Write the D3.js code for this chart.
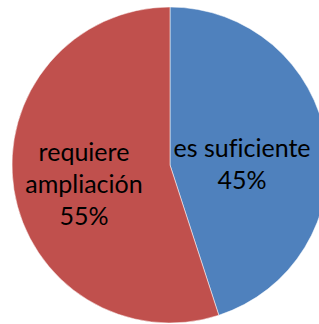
<!DOCTYPE html>
<html>
<head>
<meta charset="utf-8">
<script src="https://cdn.jsdelivr.net/npm/d3@7"></script>
<style>
body { margin: 0; background: #fff; }
svg { display: block; }
text { font-family: Lato, "Liberation Sans", sans-serif; fill: #000; font-variant-ligatures: none; }
</style>
</head>
<body>
<svg></svg>
<script>
// data
const categories = ["es suficiente", "requiere ampliación"]
const values = [45, 55]
const labelLines = [["es suficiente", "45%"], ["requiere", "ampliación", "55%"]]
const colors = ["#4F81BD", "#C0504D"]

const width = 319, height = 324
const cx = 170, cy = 165, radius = 158

const svg = d3.select("svg")
	.attr("width", width)
	.attr("height", height)

const pie = d3.pie().sort(null).value(d => d)
const arcs = pie(values)

const arc = d3.arc().innerRadius(0).outerRadius(radius)

const g = svg.append("g")
	.attr("transform", `translate(${cx},${cy})`)

g.selectAll("path.slice")
	.data(arcs)
	.enter()
	.append("path")
	.attr("class", "slice")
	.attr("d", arc)
	.attr("fill", (d, i) => colors[i])
	.attr("stroke", "#fff")
	.attr("stroke-opacity", 0.5)
	.attr("stroke-width", 1)

// label placement, roughly where excel puts them
const labelArc = d3.arc().innerRadius(radius * 0.5).outerRadius(radius * 0.5)
const labelShift = [[-6, 12], [-8, 7]]
const lineH = 32

const labels = g.selectAll("text.label")
	.data(arcs)
	.enter()
	.append("text")
	.attr("class", "label")
	.attr("text-anchor", "middle")
	.style("font-size", "25px")
	.attr("transform", (d, i) => {
		const c = labelArc.centroid(d)
		return `translate(${c[0] + labelShift[i][0]},${c[1] + labelShift[i][1]})`
	})

labels.selectAll("tspan")
	.data((d, i) => labelLines[i].map((t, j, arr) => ({t, j, n: arr.length})))
	.enter()
	.append("tspan")
	.attr("x", 0)
	.attr("y", d => (d.j - (d.n - 1) / 2) * lineH)
	.attr("dy", "0.35em")
	.text(d => d.t)
</script>
</body>
</html>
